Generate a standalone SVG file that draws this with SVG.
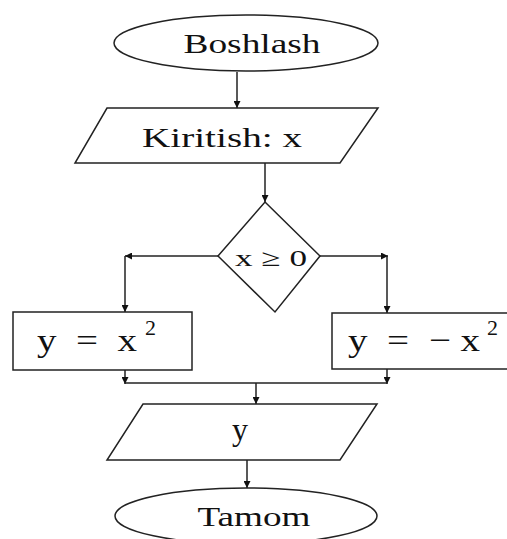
<svg xmlns="http://www.w3.org/2000/svg" width="507" height="539" viewBox="0 0 507 539">
<defs>
<style>
.s{fill:#fff;stroke:#222;stroke-width:1.5}
.c{fill:none;stroke:#222;stroke-width:1.5}
.t{font-family:"Liberation Serif","Times New Roman",serif;fill:#111}
</style>
<marker id="a" viewBox="0 0 10 10" refX="10" refY="5" markerWidth="7" markerHeight="7" orient="auto" markerUnits="userSpaceOnUse">
<path d="M0,0 L10,5 L0,10 z" fill="#111"/>
</marker>
</defs>
<rect width="507" height="539" fill="#fff"/>
<g id="connectors">
<line class="c" x1="237" y1="72" x2="237" y2="108" marker-end="url(#a)"/>
<line class="c" x1="265" y1="163" x2="265" y2="202" marker-end="url(#a)"/>
<line class="c" x1="218" y1="256" x2="125" y2="256" marker-end="url(#a)"/>
<line class="c" x1="125" y1="256" x2="125" y2="312" marker-end="url(#a)"/>
<line class="c" x1="320" y1="256" x2="388" y2="256" marker-end="url(#a)"/>
<line class="c" x1="387" y1="256" x2="387" y2="313" marker-end="url(#a)"/>
<line class="c" x1="125" y1="370" x2="125" y2="384" marker-end="url(#a)"/>
<line class="c" x1="387" y1="369" x2="387" y2="384" marker-end="url(#a)"/>
<line class="c" x1="125" y1="383" x2="387" y2="383"/>
<line class="c" x1="256" y1="383" x2="256" y2="404" marker-end="url(#a)"/>
<line class="c" x1="247" y1="460" x2="247" y2="488" marker-end="url(#a)"/>
</g>
<g id="start">
<ellipse class="s" cx="246" cy="43" rx="132" ry="28"/>
<text class="t" x="252" y="53" font-size="28" text-anchor="middle" textLength="137" lengthAdjust="spacingAndGlyphs">Boshlash</text>
</g>
<g id="input">
<polygon class="s" points="107,108 378,108 340,163 75,163"/>
<text class="t" x="142" y="147" font-size="28" textLength="160" lengthAdjust="spacingAndGlyphs">Kiritish:  x</text>
</g>
<g id="decision">
<polygon class="s" points="265,202 320,256 275,312 218,256"/>
<text class="t" x="235" y="266" font-size="24" textLength="72" lengthAdjust="spacingAndGlyphs">x ≥ 0</text>
</g>
<g id="left">
<rect class="s" x="13" y="312" width="179" height="58"/>
<text class="t" x="37" y="351" font-size="32" textLength="100" lengthAdjust="spacingAndGlyphs" xml:space="preserve">y  =  x</text>
<text class="t" x="145" y="335" font-size="22">2</text>
</g>
<g id="right">
<rect class="s" x="332" y="313" width="180" height="56"/>
<text class="t" x="348" y="351" font-size="32" textLength="132" lengthAdjust="spacingAndGlyphs" xml:space="preserve">y  =  − x</text>
<text class="t" x="487" y="335" font-size="22">2</text>
</g>
<g id="output">
<polygon class="s" points="143,404 377,404 340,460 107,460"/>
<text class="t" x="240" y="440" font-size="32" text-anchor="middle">y</text>
</g>
<g id="end">
<ellipse class="s" cx="246" cy="516" rx="131" ry="28"/>
<text class="t" x="254" y="526" font-size="28" text-anchor="middle" textLength="113" lengthAdjust="spacingAndGlyphs">Tamom</text>
</g>
</svg>
